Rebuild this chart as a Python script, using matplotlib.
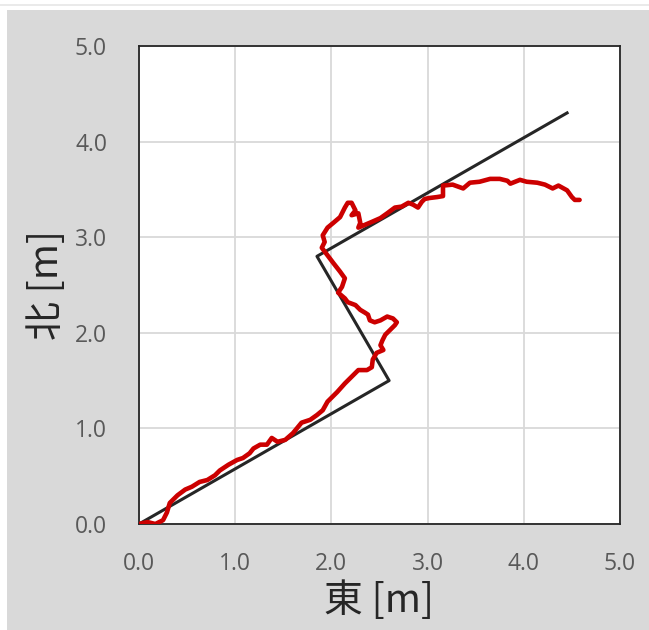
import matplotlib.pyplot as plt
from matplotlib.patches import Rectangle

plt.rcParams['font.family'] = ['Noto Sans CJK JP', 'DejaVu Sans']

# planned route (black)
route_e = [0.0, 2.6, 1.85, 4.45]
route_n = [0.0, 1.5, 2.8, 4.3]

# measured track (red)
track_e = [0.00, 0.09, 0.17, 0.25, 0.29, 0.32, 0.40, 0.48, 0.55, 0.63, 0.71, 0.79,
           0.84, 0.93, 1.02, 1.08, 1.15, 1.19, 1.26, 1.33, 1.38, 1.44, 1.52, 1.60,
           1.69, 1.78, 1.85, 1.91, 1.96, 2.06, 2.14, 2.21, 2.28, 2.37, 2.42, 2.43,
           2.47, 2.54, 2.51, 2.53, 2.56, 2.59, 2.63, 2.66, 2.68, 2.64, 2.58, 2.51,
           2.45, 2.40, 2.38, 2.35, 2.30, 2.25, 2.17, 2.14, 2.07, 2.11, 2.14, 2.09,
           2.02, 1.96, 1.90, 1.93, 1.91, 1.96, 2.02, 2.09, 2.14, 2.17, 2.21, 2.25,
           2.21, 2.28, 2.30, 2.28, 2.35, 2.42, 2.51, 2.58, 2.66, 2.73, 2.80, 2.85,
           2.90, 2.94, 2.97, 3.02, 3.10, 3.16, 3.16, 3.26, 3.37, 3.44, 3.54, 3.65,
           3.75, 3.83, 3.86, 3.96, 4.03, 4.14, 4.22, 4.30, 4.36, 4.45, 4.50, 4.53,
           4.58]
track_n = [0.00, 0.02, 0.00, 0.04, 0.12, 0.22, 0.30, 0.36, 0.39, 0.44, 0.46, 0.51,
           0.56, 0.62, 0.67, 0.69, 0.74, 0.79, 0.83, 0.83, 0.90, 0.86, 0.88, 0.95,
           1.06, 1.09, 1.14, 1.19, 1.28, 1.38, 1.47, 1.54, 1.61, 1.61, 1.64, 1.72,
           1.79, 1.82, 1.87, 1.92, 1.98, 2.01, 2.05, 2.08, 2.11, 2.15, 2.17, 2.13,
           2.11, 2.13, 2.19, 2.21, 2.24, 2.29, 2.32, 2.36, 2.42, 2.48, 2.57, 2.64,
           2.73, 2.81, 2.89, 2.95, 3.02, 3.10, 3.15, 3.21, 3.31, 3.36, 3.36, 3.28,
           3.23, 3.25, 3.15, 3.10, 3.13, 3.16, 3.20, 3.25, 3.31, 3.32, 3.36, 3.34,
           3.31, 3.37, 3.40, 3.41, 3.42, 3.43, 3.54, 3.55, 3.51, 3.57, 3.58, 3.61,
           3.61, 3.59, 3.56, 3.60, 3.58, 3.57, 3.55, 3.51, 3.54, 3.49, 3.42, 3.39,
           3.39]

ticks = [0, 1, 2, 3, 4, 5]
tick_labels = ['0.0', '1.0', '2.0', '3.0', '4.0', '5.0']

fig = plt.figure(figsize=(6.49, 6.30), dpi=100, facecolor='#d9d9d9')
# white strips at top and left edge
fig.patches.append(Rectangle((0, 1 - 10 / 630), 1, 10 / 630, transform=fig.transFigure,
                             facecolor='white', edgecolor='none', zorder=0))
fig.patches.append(Rectangle((0, 0), 7 / 649, 1, transform=fig.transFigure,
                             facecolor='white', edgecolor='none', zorder=0))
fig.lines.append(plt.Line2D([0, 1], [1 - 5 / 630, 1 - 5 / 630], transform=fig.transFigure,
                            color='#e6e6e6', lw=1.2))

ax = fig.add_axes([139 / 649, 106 / 630, 481 / 649, 478 / 630])
ax.plot(route_e, route_n, color='#262626', lw=2.2, zorder=3)
ax.plot(track_e, track_n, color='#cc0000', lw=3.3, solid_joinstyle='round',
        solid_capstyle='round', zorder=4)

ax.set_xlim(0, 5)
ax.set_ylim(0, 5)
ax.set_xticks(ticks)
ax.set_yticks(ticks)
ax.set_xticklabels(tick_labels)
ax.set_yticklabels(tick_labels)
ax.tick_params(length=0, labelsize=16.5, labelcolor='#595959')
ax.tick_params(axis='x', pad=20)
ax.tick_params(axis='y', pad=23)
for lab in ax.get_xticklabels() + ax.get_yticklabels():
    lab.set_family(['Open Sans', 'DejaVu Sans'])
ax.grid(True, color='#d9d9d9', lw=1.3)
ax.set_axisbelow(True)
for s in ax.spines.values():
    s.set_color('#262626')
    s.set_linewidth(1.3)

ax.set_xlabel('東 [m]', fontsize=28, color='#262626', labelpad=4)
ax.set_ylabel('北 [m]', fontsize=28, color='#262626', labelpad=6)

fig.savefig('out.png', dpi=100, facecolor=fig.get_facecolor())
